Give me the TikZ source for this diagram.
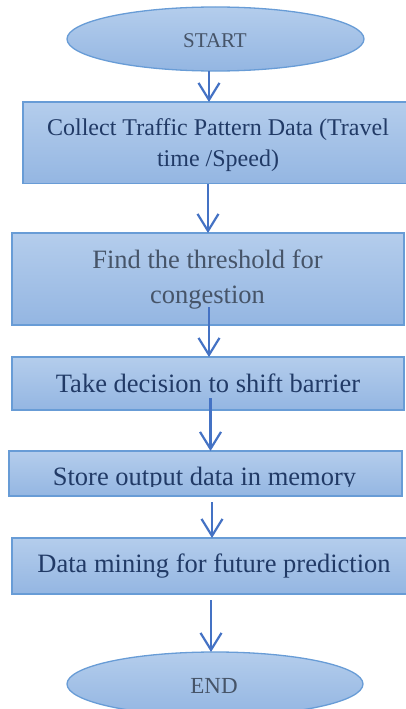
\documentclass[tikz,border=0pt]{standalone}
\usepackage{fontspec}
\setmainfont{Liberation Serif}
\usetikzlibrary{shapes.geometric,arrows.meta}
\definecolor{boxtop}{RGB}{180,205,236}
\definecolor{boxbot}{RGB}{148,182,226}
\definecolor{boxline}{RGB}{104,156,214}
\definecolor{navytxt}{RGB}{33,58,102}
\definecolor{greytxt}{RGB}{70,84,104}
\definecolor{arrowcol}{RGB}{68,114,196}
\tikzset{
  flowbox/.style={rectangle, draw=boxline, line width=1.3pt, top color=boxtop, bottom color=boxbot, inner sep=0pt, outer sep=0pt},
  flowell/.style={ellipse, draw=boxline, line width=1.3pt, top color=boxtop, bottom color=boxbot, inner sep=0pt, outer sep=0pt},
  txt/.style={anchor=base, inner sep=0pt, outer sep=0pt, font=\fontsize{26.5}{30}\selectfont, text=navytxt},
  flowarrow/.style={draw=arrowcol, line width=2.2pt, -{Straight Barb[length=17pt,width=21pt,line width=2.2pt]}}
}
\begin{document}
\begin{tikzpicture}[x=1pt,y=-1pt]
\useasboundingbox (0,0) rectangle (406,709);
\clip (0,0) rectangle (406,709);
% shapes
\node[flowell, minimum width=297pt, minimum height=64pt] (start) at (215.5,39) {};
\node[flowbox, minimum width=387pt, minimum height=81.5pt] (b1) at (216.5,142.75) {};
\node[flowbox, minimum width=392pt, minimum height=92pt] (b2) at (208,279) {};
\node[flowbox, minimum width=392pt, minimum height=53pt] (b3) at (208,383.5) {};
\node[flowbox, minimum width=393pt, minimum height=45pt] (b4) at (205.5,473.5) {};
\node[flowbox, minimum width=398pt, minimum height=56pt] (b5) at (211,566) {};
\node[flowell, minimum width=296pt, minimum height=64pt] (end) at (215,684) {};
% texts
\node[txt, text=greytxt, font=\fontsize{21}{24}\selectfont] (tstart) at (215,48) {START};
\node[txt, font=\fontsize{24}{28}\selectfont] (t1a) at (218,135) {Collect Traffic Pattern Data (Travel};
\node[txt, font=\fontsize{24}{28}\selectfont] (t1b) at (218,166.7) {time /Speed)};
\node[txt, text=greytxt] (t2a) at (207.5,268) {Find the threshold for};
\node[txt, text=greytxt] (t2b) at (207.5,303) {congestion};
\node[txt] (t3) at (208,392.7) {Take decision to shift barrier};
\begin{scope}
\clip (9,451) rectangle (402,486.5);
\node[txt] (t4) at (204.5,485) {Store output data in memory};
\end{scope}
\node[txt] (t5) at (214,572) {Data mining for future prediction};
\node[txt, text=greytxt, font=\fontsize{23}{26}\selectfont] (tend) at (214,693) {END};
% arrow start points
\coordinate (a1) at (209,71);
\coordinate (a2) at (208,184);
\coordinate (a3) at (209,307);
\coordinate (a4) at (210.5,398);
\coordinate (a5) at (212,502);
\coordinate (a6) at (211,600);
\draw[flowarrow] (a1) -- (a1 |- b1.north);
\draw[flowarrow] (a2) -- (a2 |- b2.north);
\draw[flowarrow] (a3) -- (a3 |- b3.north);
\draw[flowarrow] (a4) -- (a4 |- b4.north);
\draw[flowarrow] (a5) -- (a5 |- b5.north);
\draw[flowarrow] (a6) -- (a6 |- end.north);
\end{tikzpicture}
\end{document}
